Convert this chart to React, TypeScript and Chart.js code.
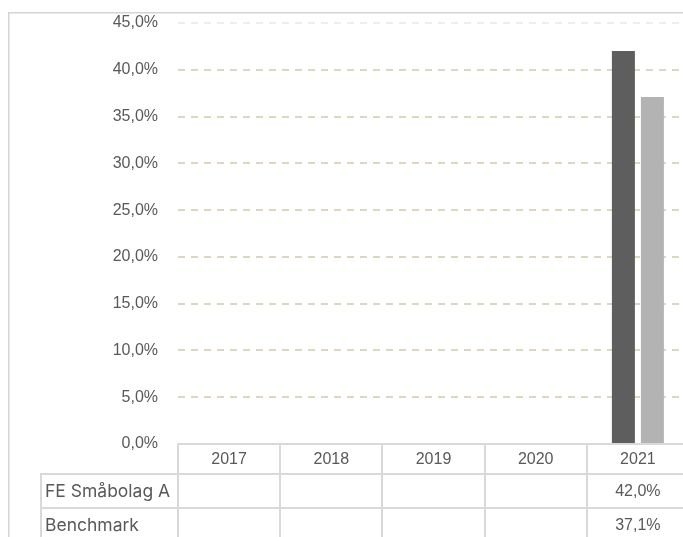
import React, { useEffect, useRef } from "react";
import { Chart, registerables } from "chart.js";

Chart.register(...registerables);

const categories = ["2017", "2018", "2019", "2020", "2021"];
const fundName = "FE Småbolag A";
const benchName = "Benchmark";
const fundValues: (number | null)[] = [null, null, null, null, 42.0];
const benchValues: (number | null)[] = [null, null, null, null, 37.1];
const yTicks = [0, 5, 10, 15, 20, 25, 30, 35, 40, 45];

const fmt = (v: number) => v.toFixed(1).replace(".", ",") + "%";

const TEXT = "#595959";
const LINE = "#d9d9d9";
const NUM_FONT = "16px 'Liberation Sans', Arial, sans-serif";
const LABEL_FONT = "17.5px Inter, 'Noto Sans', sans-serif";

const framePlugin = {
  id: "frame",
  beforeDraw(chart: any) {
    const { ctx, height, width } = chart;
    ctx.save();
    ctx.strokeStyle = "#d4d4d4";
    ctx.lineWidth = 1.5;
    ctx.beginPath();
    ctx.moveTo(0.75, height);
    ctx.lineTo(0.75, 4.75);
    ctx.lineTo(width, 4.75);
    ctx.stroke();
    ctx.restore();
  },
};

const tablePlugin = {
  id: "dataTable",
  afterDraw(chart: any) {
    const { ctx, chartArea } = chart;
    const xs = chart.scales.x;
    const n = categories.length;
    const colW = (chartArea.right - chartArea.left) / n;
    const top = chartArea.bottom;
    const headerH = 30;
    const rowH = 34;
    const labelLeft = 33;
    const rows = [
      { name: fundName, values: fundValues },
      { name: benchName, values: benchValues },
    ];
    const bottom = top + headerH + rows.length * rowH;
    const right = chartArea.left + colW * n;
    ctx.save();
    ctx.strokeStyle = LINE;
    ctx.lineWidth = 2;
    const line = (x1: number, y1: number, x2: number, y2: number) => {
      ctx.beginPath();
      ctx.moveTo(x1, y1);
      ctx.lineTo(x2, y2);
      ctx.stroke();
    };
    line(chartArea.left - 1, top, right, top);
    for (let r = 0; r <= rows.length; r++) {
      const y = top + headerH + r * rowH;
      line(labelLeft - 1, y, right, y);
    }
    for (let i = 0; i <= n; i++) {
      const x = Math.round(chartArea.left + i * colW);
      line(x, top - 1, x, bottom);
    }
    line(labelLeft, top + headerH - 1, labelLeft, bottom);

    ctx.fillStyle = TEXT;
    ctx.textBaseline = "middle";
    ctx.textAlign = "center";
    ctx.font = NUM_FONT;
    categories.forEach((c, i) => {
      const cx = xs.getPixelForValue(i);
      ctx.fillText(c, cx, top + headerH / 2 + 1);
      rows.forEach((row, r) => {
        const v = row.values[i];
        if (v !== null && v !== undefined) {
          ctx.fillText(fmt(v), cx, top + headerH + r * rowH + rowH / 2 + 1);
        }
      });
    });
    ctx.textAlign = "left";
    ctx.font = LABEL_FONT;
    rows.forEach((row, r) => {
      ctx.fillText(row.name, labelLeft + 4, top + headerH + r * rowH + rowH / 2 + 1);
    });
    ctx.restore();
  },
};

export default function App() {
  const ref = useRef<HTMLCanvasElement>(null);
  useEffect(() => {
    const canvas = ref.current!;
    const chart = new Chart(canvas, {
      type: "bar",
      data: {
        labels: categories,
        datasets: [
          {
            label: fundName,
            data: fundValues,
            backgroundColor: "#5e5e5e",
            barPercentage: 0.793,
            categoryPercentage: 0.5675,
          },
          {
            label: benchName,
            data: benchValues,
            backgroundColor: "#b3b3b3",
            barPercentage: 0.793,
            categoryPercentage: 0.5675,
          },
        ],
      },
      options: {
        responsive: false,
        animation: false,
        devicePixelRatio: 1,
        layout: { padding: { left: 0, top: 15, right: 19, bottom: 109 } },
        plugins: {
          legend: { display: false },
          tooltip: { enabled: false },
        },
        scales: {
          x: {
            display: false,
          },
          y: {
            min: 0,
            max: 45,
            afterFit: (s: any) => {
              s.width = 170;
              s.paddingTop = 0;
              s.paddingBottom = 0;
            },
            afterBuildTicks: (s: any) => {
              s.ticks = yTicks.map((v) => ({ value: v }));
            },
            ticks: {
              padding: 20,
              color: TEXT,
              font: { family: "'Liberation Sans', Arial, sans-serif", size: 16 },
              callback: (v: any) => fmt(Number(v)),
            },
            grid: {
              drawTicks: false,
              lineWidth: 2,
              color: (c: any) =>
                c.tick && c.tick.value === 45 ? "#f1eee6" : "#ddd6c0",
            },
            border: { display: false, dash: [7, 6] },
          },
        },
      },
      plugins: [framePlugin, tablePlugin],
    });
    return () => chart.destroy();
  }, []);
  return (
    <div
      style={{
        position: "fixed",
        left: 8,
        top: 8,
        width: 675,
        height: 529,
        overflow: "hidden",
      }}
    >
      <canvas
        ref={ref}
        width={700}
        height={545}
        style={{ display: "block", width: 700, height: 545 }}
      />
    </div>
  );
}
